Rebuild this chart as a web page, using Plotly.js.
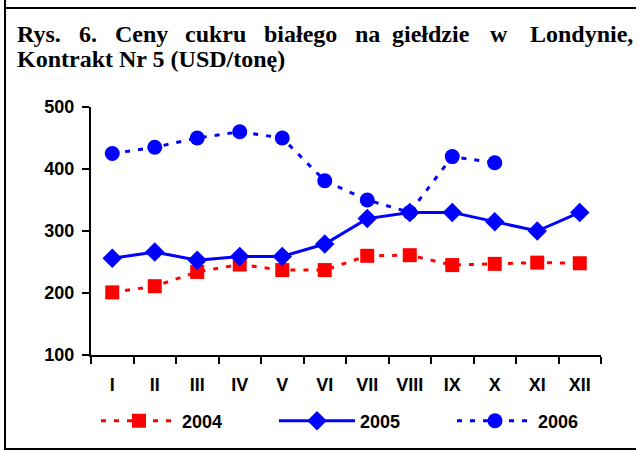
<!DOCTYPE html>
<html>
<head>
<meta charset="utf-8">
<script src="https://cdn.plot.ly/plotly-3.0.1.min.js"></script>
<style>
  html, body { margin: 0; padding: 0; background: #fff; }
  #wrap { position: relative; width: 636px; height: 450px; overflow: hidden; }
  #chart { position: absolute; left: 0; top: 0; width: 636px; height: 450px; }
  .fl { position: absolute; background: #000; }
</style>
</head>
<body>
<div id="wrap">
  <div id="chart"></div>
  <div class="fl" style="left:4px;top:0;width:2px;height:450px;"></div>
  <div class="fl" style="left:4px;top:7px;width:632px;height:2px;"></div>
  <div class="fl" style="left:4px;top:448px;width:632px;height:2px;"></div>
</div>
<script>
// ---- data ----
const months = ['I','II','III','IV','V','VI','VII','VIII','IX','X','XI','XII'];
const s2004 = [201, 211, 234, 246, 237, 237, 260, 261, 245, 247, 249, 248];
const s2005 = [256, 266, 253, 259, 259, 279, 320, 330, 330, 315, 300, 330];
const s2006 = [425, 435, 450, 460, 450, 381, 350, 330, 420, 410, null, null];
const seriesNames = ['2004', '2005', '2006'];
const titleLine1 = ['Rys.', '6.', 'Ceny', 'cukru', 'białego', 'na', 'giełdzie', 'w', 'Londynie,'];
const titleLine2 = 'Kontrakt Nr 5 (USD/tonę)';

// ---- layout helpers (pixel -> paper) ----
const L = 91, R = 601, T = 107, B = 355;
const px = p => (p - L) / (R - L);
const py = p => (B - p) / (B - T);

const word1X = [15, 77, 113, 183, 262, 353, 390, 488, 528];
const titleFont = {family: 'Liberation Serif', size: 24, color: '#000'};

const annotations = titleLine1.map((w, i) => ({
  text: '<b>' + w + '</b>', xref: 'paper', yref: 'paper',
  x: px(word1X[i]), y: py(34), xanchor: 'left', yanchor: 'middle',
  showarrow: false, font: titleFont
}));
annotations.push({
  text: '<b>' + titleLine2 + '</b>', xref: 'paper', yref: 'paper',
  x: px(15), y: py(59), xanchor: 'left', yanchor: 'middle',
  showarrow: false, font: titleFont
});

const axFont = {family: 'Liberation Sans', size: 18, color: '#000', weight: 'bold'};

const traces = [
  {x: months, y: s2004, name: seriesNames[0], type: 'scatter', mode: 'lines+markers',
   line: {color: '#ff0000', width: 3, dash: '5px,8px'},
   marker: {symbol: 'square', size: 14, color: '#ff0000'}},
  {x: months, y: s2005, name: seriesNames[1], type: 'scatter', mode: 'lines+markers',
   line: {color: '#0000ff', width: 3},
   marker: {symbol: 'diamond', size: 15, color: '#0000ff'}},
  {x: months, y: s2006, name: seriesNames[2], type: 'scatter', mode: 'lines+markers',
   connectgaps: false,
   line: {color: '#0000ff', width: 3, dash: '5px,8px'},
   marker: {symbol: 'circle', size: 15, color: '#0000ff'}}
];

const layout = {
  width: 636, height: 450,
  margin: {l: L, r: 636 - R, t: T, b: 450 - B, pad: 0, autoexpand: false},
  paper_bgcolor: 'rgba(0,0,0,0)', plot_bgcolor: 'rgba(0,0,0,0)',
  showlegend: true,
  legend: {
    orientation: 'h', x: px(90), xanchor: 'left', y: py(421), yanchor: 'middle',
    font: axFont, entrywidth: 87, entrywidthmode: 'pixels', itemwidth: 76,
    bgcolor: 'rgba(0,0,0,0)', bordercolor: 'rgba(0,0,0,0)', borderwidth: 6,
    tracegroupgap: 0
  },
  xaxis: {
    type: 'category', categoryorder: 'array', categoryarray: months,
    range: [-0.5, 11.5], showline: true, linecolor: '#000', linewidth: 2,
    ticks: 'outside', ticklen: 7, tickwidth: 2, tickcolor: '#000',
    tickson: 'boundaries', showgrid: false, zeroline: false,
    tickfont: axFont, ticklabelstandoff: 12
  },
  yaxis: {
    range: [100, 500], dtick: 100, tick0: 100, showline: true, linecolor: '#000', linewidth: 2,
    ticks: 'outside', ticklen: 7, tickwidth: 2, tickcolor: '#000',
    showgrid: false, zeroline: false, tickfont: axFont, ticklabelstandoff: 4
  },
  annotations: annotations
};

Plotly.newPlot('chart', traces, layout, {displayModeBar: false, staticPlot: true});
</script>
</body>
</html>
